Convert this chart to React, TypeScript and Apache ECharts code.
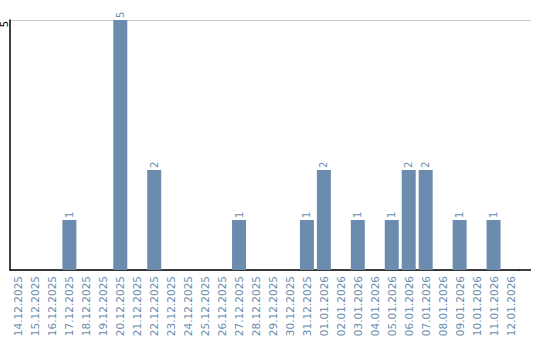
import React, { useEffect, useRef } from "react";
import * as echarts from "echarts";

const categories = [
  "14.12.2025", "15.12.2025", "16.12.2025", "17.12.2025", "18.12.2025",
  "19.12.2025", "20.12.2025", "21.12.2025", "22.12.2025", "23.12.2025",
  "24.12.2025", "25.12.2025", "26.12.2025", "27.12.2025", "28.12.2025",
  "29.12.2025", "30.12.2025", "31.12.2025", "01.01.2026", "02.01.2026",
  "03.01.2026", "04.01.2026", "05.01.2026", "06.01.2026", "07.01.2026",
  "08.01.2026", "09.01.2026", "10.01.2026", "11.01.2026", "12.01.2026",
];
const counts = [
  0, 0, 0, 1, 0, 0, 5, 0, 2, 0,
  0, 0, 0, 1, 0, 0, 0, 1, 2, 0,
  1, 0, 1, 2, 2, 0, 1, 0, 1, 0,
];
const yTicks = { min: 0, max: 5, interval: 5 };
const yTickLabels = ["5"];

const BLUE = "#6b8cae";
const FONT = "DejaVu Sans";

export default function App() {
  const ref = useRef<HTMLDivElement>(null);
  useEffect(() => {
    if (!ref.current) return;
    const chart = echarts.init(ref.current, undefined, { renderer: "svg" });
    chart.setOption({
      animation: false,
      grid: { left: 10, top: 20, width: 509, height: 250, containLabel: false },
      xAxis: {
        type: "category",
        data: categories,
        axisLine: { show: true, lineStyle: { color: "#000", width: 1.5 } },
        axisTick: { show: false },
        axisLabel: {
          interval: 0,
          rotate: 90,
          margin: 6,
          color: BLUE,
          fontSize: 10.5,
          fontFamily: FONT,
        },
        splitLine: { show: false },
      },
      yAxis: {
        type: "value",
        min: yTicks.min,
        max: yTicks.max,
        interval: yTicks.interval,
        axisLine: { show: true, lineStyle: { color: "#000", width: 1.5 } },
        axisTick: { show: false },
        axisLabel: { show: false },
        splitLine: { show: true, lineStyle: { color: "#cccccc", width: 1 } },
      },
      series: [
        {
          type: "bar",
          data: counts,
          barWidth: 14,
          itemStyle: { color: BLUE },
          label: {
            show: true,
            position: "top",
            rotate: 90,
            align: "left",
            verticalAlign: "middle",
            distance: 2,
            color: BLUE,
            fontSize: 10,
            fontFamily: FONT,
            formatter: (p: any) => (p.value === 0 ? "" : String(p.value)),
          },
        },
      ],
    });
    const yTop = chart.convertToPixel({ yAxisIndex: 0 }, yTicks.max) as number;
    const yZero = chart.convertToPixel({ yAxisIndex: 0 }, yTicks.min) as number;
    const xLeft = chart.convertToPixel({ xAxisIndex: 0 }, categories[0]) as number;
    const xRight = chart.convertToPixel({ xAxisIndex: 0 }, categories[categories.length - 1]) as number;
    const halfBand = (xRight - xLeft) / (categories.length - 1) / 2;
    const xEnd = xRight + halfBand;
    chart.setOption({
      graphic: [
        {
          type: "line",
          shape: { x1: xEnd, y1: yZero, x2: xEnd + 12, y2: yZero },
          style: { stroke: "#000", lineWidth: 1.5 },
        },
        {
          type: "line",
          shape: { x1: xEnd, y1: Math.round(yTop) + 0.5, x2: xEnd + 12, y2: Math.round(yTop) + 0.5 },
          style: { stroke: "#cccccc", lineWidth: 1 },
        },
        ...yTickLabels.map((t) => ({
          type: "text",
          x: 4.5,
          y: yTop + 4,
          rotation: Math.PI / 2,
          style: {
            text: t,
            fill: "#000",
            font: `10px "${FONT}"`,
            align: "center",
            verticalAlign: "middle",
          },
        })),
      ],
    });
    return () => chart.dispose();
  }, []);
  return <div ref={ref} style={{ width: 540, height: 340, position: "absolute", left: 0, top: 0 }} />;
}
